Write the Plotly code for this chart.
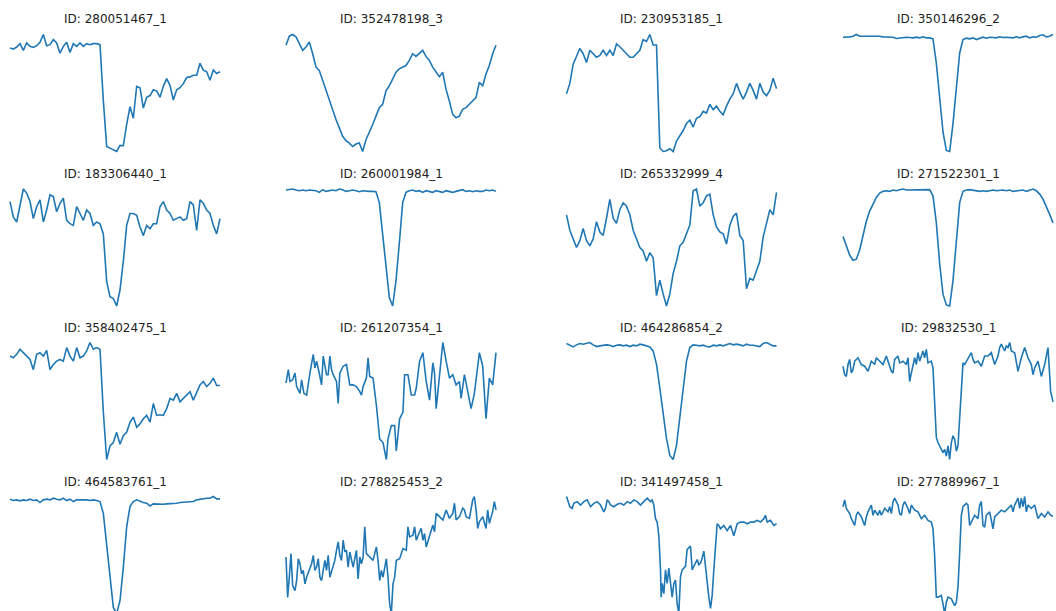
import numpy as np
import plotly.graph_objects as go

# Light-curve IDs (row-major, 4x4 grid)
ids = ["280051467_1", "352478198_3", "230953185_1", "350146296_2",
       "183306440_1", "260001984_1", "265332999_4", "271522301_1",
       "358402475_1", "261207354_1", "464286854_2", "29832530_1",
       "464583761_1", "278825453_2", "341497458_1", "277889967_1"]

# relative flux (arbitrary units); uniformly sampled in phase unless a time list is given
flux_280051467_1 = [310,307,313,323,303,325,315,312,317,327,350,317,320,335,325,295,315,327,297,323,
                    315,325,315,323,320,323,323,320,155,20,15,10,5,23,22,85,137,103,197,193,
                    133,165,170,187,183,165,197,220,200,157,187,193,205,223,225,230,230,265,245,240,
                    215,245,235,240]
flux_352478198_3 = [320,347,352,345,325,305,315,330,295,255,245,215,185,155,125,100,75,50,37,30,
                    20,27,30,5,40,60,85,110,135,145,185,200,220,240,250,255,260,275,295,287,
                    297,305,287,275,255,240,227,240,190,155,115,105,110,130,135,145,155,165,210,200,
                    235,260,295,320]
flux_230953185_1 = [180,210,265,290,310,295,270,305,295,285,290,305,290,305,290,323,315,305,295,285,
                    285,295,305,335,330,350,320,320,25,15,17,23,15,45,60,75,95,105,85,110,
                    115,130,125,150,135,145,130,120,145,165,180,210,185,165,185,210,190,165,210,185,
                    175,190,225,195]
flux_350146296_2 = [342,342,343,345,350,345,345,347,345,345,345,345,343,343,342,342,338,340,341,342,
                    341,340,342,340,343,340,340,337,265,155,60,5,2,85,185,295,335,
                    339,337,340,335,339,342,339,342,341,340,343,341,342,341,340,343,340,343,345,340,
                    343,342,347,349,343,345,350]
flux_183306440_1 = [310,265,250,295,347,335,310,260,295,315,250,285,330,325,280,305,320,255,245,240,
                    295,275,255,285,275,240,250,245,215,75,30,25,3,50,135,240,275,275,270,235,
                    210,240,230,245,245,295,310,285,275,255,260,265,255,260,310,300,225,315,305,285,
                    275,240,215,260]
flux_260001984_1 = [342,343,345,342,340,342,340,342,340,340,335,343,338,340,342,340,345,343,338,340,
                    342,340,337,340,338,338,338,337,305,215,105,25,0,75,185,305,335,340,342,338,
                    340,335,340,338,335,340,338,335,340,338,335,338,340,343,338,340,337,340,338,338,
                    342,340,342,338]
flux_265332999_4 = [270,225,200,175,195,230,195,180,200,250,220,210,260,315,260,245,285,305,295,270,
                    225,200,175,165,135,160,145,35,80,40,5,40,100,135,180,190,215,240,340,345,
                    295,305,325,330,270,235,220,215,185,240,265,275,210,195,55,85,80,110,135,205,
                    245,285,270,335]
flux_271522301_1 = [205,180,150,135,138,165,210,250,280,300,320,333,338,340,338,342,340,343,345,342,
                    342,343,342,342,342,343,343,325,245,125,35,3,0,75,195,305,338,342,343,342,
                    340,338,340,338,340,342,340,342,342,340,342,338,340,340,342,338,342,345,340,330,
                    315,295,270,245]
flux_358402475_1 = [307,302,312,327,317,307,297,267,312,317,307,324,267,282,292,297,292,332,307,292,
                    332,302,307,322,347,327,332,327,142,2,42,52,82,47,72,82,112,127,97,107,
                    122,132,112,167,132,134,132,152,182,177,197,172,182,192,202,177,202,222,232,217,
                    227,242,220,220]
time_261207354_1 = [0,7,12,20,27,32,42,47,54,62,72,82,87,92,100,107,112,122,127,132,137,142,152,157,162,
                    172,182,192,202,212,222,227,232,242,247,252,262,272,282,292,302,307,317,327,332,
                    342,352,357,367,377,387,392,402,412,422,432,442,447,452,462,472,482,492,502,512,
                    522,527,537,547,557,567,577,582,592,602,612,622,632]
flux_261207354_1 = [227,267,232,237,257,217,197,237,197,192,257,312,272,292,257,222,307,252,252,307,
                    267,252,232,167,257,277,282,222,222,217,202,192,217,242,302,247,242,162,62,52,
                    2,62,102,102,27,122,142,252,252,192,192,212,292,317,232,177,287,257,152,252,
                    347,292,242,252,222,232,182,252,202,152,197,272,317,277,122,242,222,317]
flux_464286854_2 = [344,339,334,340,344,342,344,347,340,335,337,339,340,339,335,339,340,337,339,335,
                    339,337,342,340,337,334,322,282,212,132,62,12,0,42,132,222,292,332,340,339,
                    337,339,335,334,339,337,340,337,340,344,340,342,340,337,342,339,339,337,335,344,
                    347,342,337,337]
time_29832530_1 = [0,5,10,15,20,25,30,35,45,55,65,75,85,95,100,110,120,130,135,145,150,155,165,170,180,
                   190,195,200,205,215,220,225,230,240,245,250,255,265,270,275,280,285,295,300,305,
                   310,315,320,325,330,335,340,345,350,355,360,365,375,385,390,395,405,415,425,435,
                   445,455,465,470,475,485,490,495,500,505,515,525,535,545,555,565,570,575,585,595,
                   605,615,623,630]
flux_29832530_1 = [277,252,247,282,297,257,267,292,302,282,277,262,292,282,302,292,282,307,292,262,
                   257,297,307,287,292,282,302,232,257,302,282,317,292,322,302,327,287,292,272,172,
                   67,52,32,22,32,12,42,2,52,72,62,27,42,132,232,287,282,302,317,297,
                   287,292,277,307,307,317,282,307,332,342,322,337,332,347,322,317,262,302,332,302,
                   282,252,272,292,247,282,332,202,172]
flux_464583761_1 = [340,336,338,335,338,336,340,336,338,330,338,340,338,343,340,338,343,336,340,333,
                    338,338,340,338,336,338,336,333,298,208,98,18,0,38,138,258,318,333,338,333,
                    330,328,320,326,325,326,325,326,326,328,328,330,331,333,333,333,338,340,340,343,
                    343,348,341,341]
time_278825453_2 = [0,5,10,15,20,27,32,37,42,47,52,57,62,67,72,77,82,87,92,97,102,107,112,117,122,
                    127,132,137,142,147,152,157,162,167,172,177,182,187,192,197,202,207,212,217,222,
                    227,232,237,242,252,262,272,277,282,287,292,302,307,312,317,322,327,332,342,352,
                    362,367,372,382,387,392,402,407,412,417,422,432,442,447,452,462,472,482,492,502,
                    507,512,522,532,537,542,552,562,567,572,577,582,592,602,607,612,617,622,627,632]
flux_278825453_2 = [168,48,108,178,83,68,98,163,148,118,128,88,108,123,138,148,173,128,138,163,
                    108,98,128,158,128,173,108,123,138,158,188,213,173,158,218,183,188,138,183,163,
                    138,163,188,103,168,148,168,258,178,168,158,198,158,98,128,108,163,108,28,0,
                    88,108,158,163,193,188,258,228,233,258,218,243,253,218,238,198,228,263,243,298,
                    288,278,308,283,298,328,278,288,313,308,288,283,338,348,308,253,273,288,253,308,
                    268,288,303,333,308]
time_341497458_1 = [0,4,10,17,22,32,42,52,62,72,82,92,102,112,117,122,127,132,142,152,162,172,182,192,
                    202,212,222,232,242,252,257,262,267,272,277,282,284,287,292,297,302,307,312,317,
                    322,327,332,337,342,347,357,362,372,377,382,392,397,402,407,412,417,422,427,432,
                    437,442,447,452,457,462,472,482,492,502,512,522,532,542,552,562,572,582,592,597,
                    602,612,622,630]
flux_341497458_1 = [343,333,313,308,323,328,318,328,333,313,323,328,318,298,308,333,328,318,313,320,
                    323,318,328,323,333,328,318,328,338,328,333,318,278,268,228,128,48,88,58,128,
                    88,133,98,48,88,98,28,0,108,128,138,188,198,128,138,158,143,148,163,183,
                    138,88,48,15,53,128,208,263,258,248,258,243,258,228,263,268,268,263,268,268,
                    273,268,278,288,268,273,258,263]
time_277889967_1 = [0,5,10,15,20,25,35,40,45,55,65,70,75,85,90,95,105,110,115,125,135,140,145,150,155,
                    160,165,170,175,180,185,195,200,205,215,225,235,245,255,265,270,275,280,285,295,
                    300,305,310,315,325,335,340,345,350,355,360,370,375,380,385,395,405,410,415,420,
                    425,430,440,450,455,465,475,485,495,505,510,515,520,525,530,535,540,545,550,555,
                    565,575,585,595,605,615,623,630]
flux_277889967_1 = [313,333,308,298,293,278,258,288,298,283,258,283,298,318,288,303,288,303,288,308,
                    298,313,293,328,338,328,318,293,288,318,328,308,293,318,303,298,278,288,273,268,
                    248,168,48,48,53,28,0,33,48,43,23,33,78,178,288,313,323,318,258,268,
                    288,278,318,328,258,253,288,298,248,283,293,303,298,308,318,298,318,328,338,308,
                    338,313,343,298,318,308,318,278,293,283,298,288,285]

series = [flux_280051467_1, flux_352478198_3, flux_230953185_1, flux_350146296_2,
          flux_183306440_1, flux_260001984_1, flux_265332999_4, flux_271522301_1,
          flux_358402475_1, flux_261207354_1, flux_464286854_2, flux_29832530_1,
          flux_464583761_1, flux_278825453_2, flux_341497458_1, flux_277889967_1]
times = {"261207354_1": time_261207354_1, "29832530_1": time_29832530_1,
         "278825453_2": time_278825453_2, "341497458_1": time_341497458_1,
         "277889967_1": time_277889967_1}

W, H = 1056, 611
col_left = [10, 286, 566.5, 843]
col_width = 210
row_top = [34.5, 189, 342.5, 496.5]
row_height = 117
pad = 3

fig = go.Figure()
layout = dict(width=W, height=H, margin=dict(l=0, r=0, t=0, b=0),
              paper_bgcolor="white", plot_bgcolor="white", showlegend=False,
              font=dict(family="DejaVu Sans", size=12, color="#222"))
annotations = []
for i, (pid, vals) in enumerate(zip(ids, series)):
    r, c = divmod(i, 4)
    k = i + 1
    vals = np.asarray(vals, dtype=float)
    if pid in times:
        t = np.asarray(times[pid], dtype=float)
    else:
        t = np.arange(len(vals), dtype=float)
    assert len(t) == len(vals), pid
    xs = "x" if k == 1 else f"x{k}"
    ys = "y" if k == 1 else f"y{k}"
    fig.add_trace(go.Scatter(x=t, y=vals, mode="lines", xaxis=xs, yaxis=ys,
                             line=dict(color="#1f77b4", width=1.6), hoverinfo="skip"))
    # x axis: data span fills the panel width
    L = col_left[c]
    R = L + col_width
    pl, pr = max(L - pad, 0), min(R + pad, W)
    tmin, tmax = t.min(), t.max()
    tspan = tmax - tmin
    xr = [tmin + (pl - L) / col_width * tspan, tmin + (pr - L) / col_width * tspan]
    # y axis: data span fills the panel height
    T = row_top[r]
    B = T + row_height
    pt, pb = max(T - pad, 0), min(B + pad, H)
    vmin, vmax = vals.min(), vals.max()
    span = vmax - vmin
    yr = [vmin + (B - pb) / row_height * span, vmin + (B - pt) / row_height * span]
    axcommon = dict(visible=False, showgrid=False, zeroline=False, fixedrange=True)
    layout["xaxis" if k == 1 else f"xaxis{k}"] = dict(domain=[pl / W, pr / W], range=xr,
                                                     anchor=ys, **axcommon)
    layout["yaxis" if k == 1 else f"yaxis{k}"] = dict(domain=[1 - pb / H, 1 - pt / H], range=yr,
                                                     anchor=xs, **axcommon)
    annotations.append(dict(text=f"ID: {pid}", x=(L + R) / 2 / W, y=1 - (T - 15) / H,
                            xref="paper", yref="paper", xanchor="center", yanchor="middle",
                            showarrow=False, font=dict(family="DejaVu Sans", size=12, color="#222")))
layout["annotations"] = annotations
fig.update_layout(**layout)
fig.write_html("out.html", config={"displayModeBar": False},
               post_script="document.body.style.margin='0';document.body.style.overflow='hidden';")
